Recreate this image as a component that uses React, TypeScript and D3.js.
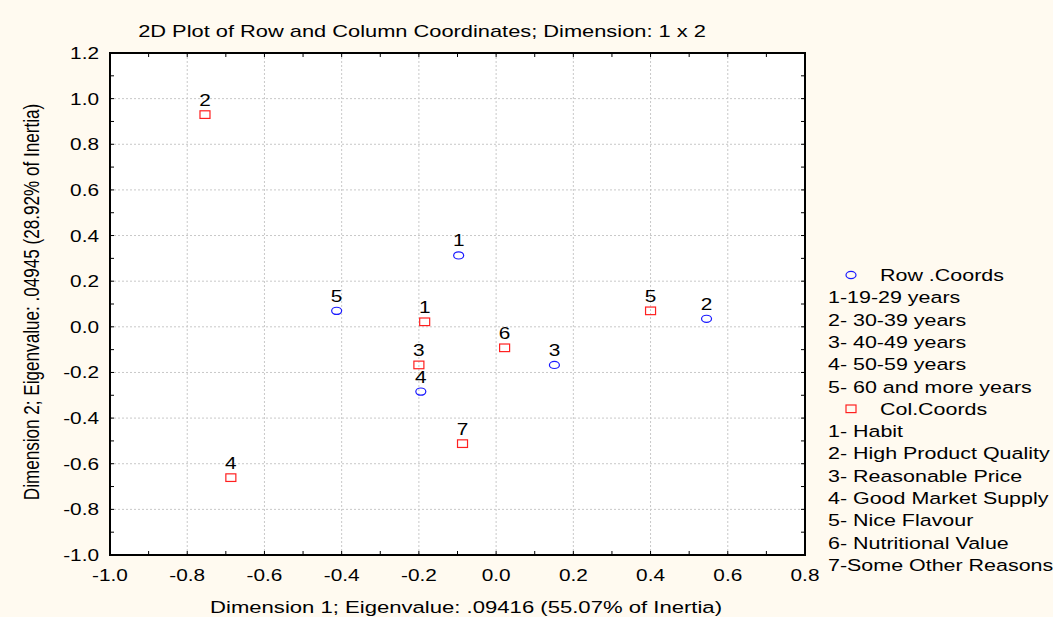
import React from "react";
import * as d3 from "d3";

const title = "2D Plot of Row and Column Coordinates; Dimension:  1 x  2";
const xTitle = "Dimension 1; Eigenvalue: .09416 (55.07% of Inertia)";
const yTitle = "Dimension 2; Eigenvalue: .04945 (28.92% of Inertia)";

const xTickValues = [-1.0, -0.8, -0.6, -0.4, -0.2, 0.0, 0.2, 0.4, 0.6, 0.8];
const yTickValues = [-1.0, -0.8, -0.6, -0.4, -0.2, 0.0, 0.2, 0.4, 0.6, 0.8, 1.0, 1.2];

const rowLabels = ["1", "2", "3", "4", "5"];
const rowX = [-0.097, 0.545, 0.151, -0.195, -0.413];
const rowY = [0.313, 0.035, -0.167, -0.284, 0.07];

const colLabels = ["1", "2", "3", "4", "5", "6", "7"];
const colX = [-0.185, -0.754, -0.2, -0.687, 0.4, 0.022, -0.087];
const colY = [0.022, 0.93, -0.167, -0.661, 0.07, -0.092, -0.512];

const rowLegendTitle = "Row .Coords";
const rowLegendItems = [
  "1-19-29 years",
  "2- 30-39 years",
  "3- 40-49 years",
  "4- 50-59 years",
  "5- 60 and more years",
];
const colLegendTitle = "Col.Coords";
const colLegendItems = [
  "1- Habit",
  "2- High Product Quality",
  "3- Reasonable Price",
  "4- Good Market Supply",
  "5- Nice Flavour",
  "6- Nutritional Value",
  "7-Some Other Reasons",
];

const W = 1053;
const H = 617;
const plot = { left: 110, right: 805, top: 53, bottom: 555 };
const SX = 1.3;
const FONT = "'Liberation Sans', Arial, sans-serif";
const BLUE = "#1a1aff";
const RED = "#ff2020";

function T(props: {
  x: number;
  y: number;
  size: number;
  anchor?: string;
  rotate?: boolean;
  children: React.ReactNode;
}) {
  const { x, y, size, anchor = "start", rotate = false, children } = props;
  const tf = rotate
    ? `translate(${x},${y}) rotate(-90) scale(1,${SX})`
    : `translate(${x},${y}) scale(${SX},1)`;
  return (
    <text
      transform={tf}
      fontSize={size}
      fontFamily={FONT}
      textAnchor={anchor}
      fill="#000"
    >
      {children}
    </text>
  );
}

export default function App() {
  const x = d3.scaleLinear().domain([-1.0, 0.8]).range([plot.left, plot.right]);
  const y = d3.scaleLinear().domain([-1.0, 1.2]).range([plot.bottom, plot.top]);
  const minorX = d3.range(-1.0, 0.8001, 0.1);
  const minorY = d3.range(-1.0, 1.2001, 0.1);
  const fmt = (v: number) => d3.format(".1f")(v).replace("\u2212", "-");
  const tickLen = 4;

  const legendX = 828;
  const legendTop = 281;
  const legendStep = 22.3;

  return (
    <svg
      width={W}
      height={H}
      style={{ position: "absolute", left: 0, top: 0, display: "block" }}
    >
      <rect x={0} y={0} width={W} height={H} fill="#fffaf0" />
      <rect
        x={plot.left}
        y={plot.top}
        width={plot.right - plot.left}
        height={plot.bottom - plot.top}
        fill="#ffffff"
      />
      {/* grid */}
      {xTickValues.slice(1, -1).map((v, i) => (
        <line
          key={"gx" + i}
          x1={x(v)}
          x2={x(v)}
          y1={plot.top}
          y2={plot.bottom}
          stroke="#c8c8c8"
          strokeDasharray="2,2"
        />
      ))}
      {yTickValues.slice(1, -1).map((v, i) => (
        <line
          key={"gy" + i}
          x1={plot.left}
          x2={plot.right}
          y1={y(v)}
          y2={y(v)}
          stroke="#c8c8c8"
          strokeDasharray="2,2"
        />
      ))}
      {/* minor ticks */}
      {minorX.map((v, i) => (
        <g key={"tx" + i}>
          <line x1={x(v)} x2={x(v)} y1={plot.top} y2={plot.top + tickLen} stroke="#000" />
          <line x1={x(v)} x2={x(v)} y1={plot.bottom} y2={plot.bottom - tickLen} stroke="#000" />
        </g>
      ))}
      {minorY.map((v, i) => (
        <g key={"ty" + i}>
          <line x1={plot.left} x2={plot.left + tickLen} y1={y(v)} y2={y(v)} stroke="#000" />
          <line x1={plot.right} x2={plot.right - tickLen} y1={y(v)} y2={y(v)} stroke="#000" />
        </g>
      ))}
      {/* border */}
      <rect
        x={plot.left}
        y={plot.top}
        width={plot.right - plot.left}
        height={plot.bottom - plot.top}
        fill="none"
        stroke="#000"
        strokeWidth={2}
      />
      {/* tick labels */}
      {xTickValues.map((v, i) => (
        <T key={"xl" + i} x={x(v)} y={581} size={16} anchor="middle">
          {fmt(v)}
        </T>
      ))}
      {yTickValues.map((v, i) => (
        <T key={"yl" + i} x={99} y={y(v) + 6} size={16} anchor="end">
          {fmt(v)}
        </T>
      ))}
      {/* titles */}
      <T x={422} y={37} size={16.8} anchor="middle">
        {title}
      </T>
      <T x={466} y={613} size={17} anchor="middle">
        {xTitle}
      </T>
      <T x={39} y={302} size={17.1} anchor="middle" rotate>
        {yTitle}
      </T>
      {/* points */}
      {rowX.map((v, i) => (
        <g key={"r" + i}>
          <ellipse
            cx={x(v)}
            cy={y(rowY[i])}
            rx={5}
            ry={3.6}
            fill="none"
            stroke={BLUE}
            strokeWidth={1.2}
          />
          <T x={x(v)} y={y(rowY[i]) - 9} size={16} anchor="middle">
            {rowLabels[i]}
          </T>
        </g>
      ))}
      {colX.map((v, i) => (
        <g key={"c" + i}>
          <rect
            x={x(v) - 5}
            y={y(colY[i]) - 3.8}
            width={10}
            height={7.6}
            fill="none"
            stroke={RED}
            strokeWidth={1.2}
          />
          <T x={x(v)} y={y(colY[i]) - 9} size={16} anchor="middle">
            {colLabels[i]}
          </T>
        </g>
      ))}
      {/* legend */}
      <ellipse
        cx={851}
        cy={legendTop - 6}
        rx={5}
        ry={3.6}
        fill="none"
        stroke={BLUE}
        strokeWidth={1.2}
      />
      <T x={880} y={legendTop} size={16.5}>
        {rowLegendTitle}
      </T>
      {rowLegendItems.map((s, i) => (
        <T key={"rl" + i} x={legendX} y={legendTop + legendStep * (i + 1)} size={16.5}>
          {s}
        </T>
      ))}
      <rect
        x={846}
        y={legendTop + legendStep * 6 - 6 - 3.8}
        width={10}
        height={7.6}
        fill="none"
        stroke={RED}
        strokeWidth={1.2}
      />
      <T x={880} y={legendTop + legendStep * 6} size={16.5}>
        {colLegendTitle}
      </T>
      {colLegendItems.map((s, i) => (
        <T key={"cl" + i} x={legendX} y={legendTop + legendStep * (i + 7)} size={16.5}>
          {s}
        </T>
      ))}
    </svg>
  );
}
